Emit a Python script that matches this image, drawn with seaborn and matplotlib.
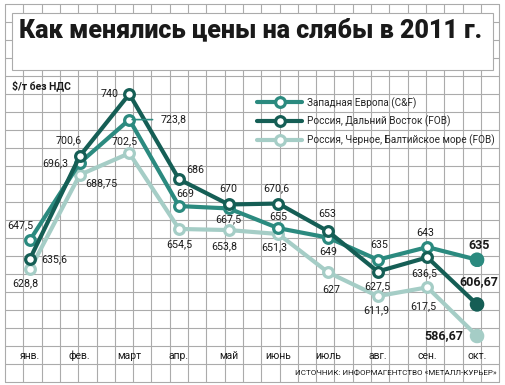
import numpy as np
import pandas as pd
import seaborn as sns
import matplotlib.pyplot as plt
from matplotlib.lines import Line2D
from matplotlib.patches import Rectangle
from matplotlib.transforms import blended_transform_factory

# data ($/t without VAT)
months = ["янв.", "фев.", "март", "апр.", "май", "июнь", "июль", "авг.", "сен.", "окт."]
west_europe = [647.5, 696.3, 723.8, 669, 667.5, 655, 649, 635, 643, 635]
far_east = [635.6, 700.6, 740, 686, 670, 670.6, 653, 627.5, 636.5, 606.67]
black_baltic = [628.8, 688.75, 702.5, 654.5, 653.8, 651.3, 627, 611.9, 617.5, 586.67]
series_names = ["Западная Европа (C&F)",
                "Россия, Дальний Восток (FOB)",
                "Россия, Черное, Балтийское море (FOB)"]
colors = ["#2b8a7f", "#155e55", "#a5cdc6"]

# label offsets in pixels (dx, dy) for each series / month
offs_we = [(-10, 15), (-24, 0), (44, 0), (6, 12), (0, -11), (0, 11), (0, -14), (1, 15), (-2, 14), (2, 14)]
offs_fe = [(24, 0), (-11, 16), (-20, 0), (16, 9), (0, 15), (-2, 15), (-1, 17), (0, -15), (-3, -16), (2, 23)]
offs_bb = [(-5, -14), (22, -8), (-5, 12), (0, -15), (-4, -16), (-4, -13), (3, -18), (-1, -14), (-4, -19), (-33, 0)]

df = pd.DataFrame({
    "month": list(range(len(months))) * 3,
    "price": west_europe + far_east + black_baltic,
    "series": np.repeat(series_names, len(months)),
})

sns.set_style("white")
font = "Roboto"

fig = plt.figure(figsize=(5.05, 3.85), dpi=100)

# background in pixel coords: grid, title box, texts
bg = fig.add_axes([0, 0, 1, 1], zorder=0)
bg.set_xlim(0, 505)
bg.set_ylim(385, 0)
bg.axis("off")
grid_c = "#ababab"
for k in range(28):
    x = 5 + 18.3 * k
    bg.plot([x, x], [4, 382], color=grid_c, lw=0.8)
for k in range(22):
    y = 4 + 18 * k
    bg.plot([5, 499], [y, y], color=grid_c, lw=0.8)
bg.add_patch(Rectangle((12, 13), 481, 57, facecolor="white", edgecolor=grid_c, lw=0.8, zorder=3))
bg.text(251, 30, "Как менялись цены на слябы в 2011 г.", ha="center", va="center",
        fontsize=18, fontweight="heavy", family=font, color="#1a1a1a", zorder=4)
bg.text(12, 86, "\\$/т без НДС", ha="left", va="center", fontsize=7.5,
        fontweight="bold", family=font, color="#1a1a1a")
bg.text(497, 374, "ИСТОЧНИК: ИНФОРМАГЕНТСТВО «МЕТАЛЛ-КУРЬЕР»", ha="right", va="center",
        fontsize=5.8, family=font, color="#1a1a1a")

# data axes on top
ax = fig.add_axes([0, 0, 1, 1], zorder=1)
ax.patch.set_alpha(0)
ax.set_xlim(-0.604, 9.563)
ax.set_ylim(555.6, 799.6)
ax.axis("off")

order = [series_names[2], series_names[0], series_names[1]]
pal = dict(zip(series_names, colors))
for name in order:
    sns.lineplot(data=df[df.series == name], x="month", y="price", color=pal[name],
                 lw=3, marker="o", ms=7, mew=2.3, mfc="white", mec=pal[name],
                 legend=False, ax=ax, zorder=2)
last = df[df.month == len(months) - 1]
sns.scatterplot(data=last, x="month", y="price", hue="series", palette=pal,
                s=110, edgecolor="none", legend=False, ax=ax, zorder=3)

def fmt(v):
    return f"{v:g}".replace(".", ",")

for vals, offs in zip([west_europe, far_east, black_baltic], [offs_we, offs_fe, offs_bb]):
    for i, (v, (dx, dy)) in enumerate(zip(vals, offs)):
        bold = i == len(months) - 1
        ax.annotate(fmt(v), (i, v), xytext=(dx, dy), textcoords="offset pixels",
                    ha="center", va="center", family=font,
                    fontsize=9 if bold else 7.7, fontweight="bold" if bold else "normal",
                    color="#1a1a1a", zorder=5)

# leader line for the March Western Europe label
ax.annotate("", (2, west_europe[2]), xytext=(26, 0), textcoords="offset pixels",
            arrowprops=dict(arrowstyle="-", color=colors[0], lw=1.2))

# month labels
tr = blended_transform_factory(ax.transData, bg.transData)
for i, m in enumerate(months):
    ax.text(i, 356, m, transform=tr, ha="center", va="center", fontsize=7.5,
            family=font, color="#1a1a1a")

handles = [Line2D([], [], color=c, lw=3, marker="o", ms=7, mew=2.3, mfc="white", mec=c)
           for c in colors]
fig.legend(handles, series_names, loc="upper left", bbox_to_anchor=(257, 97),
           bbox_transform=bg.transData, frameon=False, prop={"family": font, "size": 7.2},
           handlelength=4.5, handletextpad=0.5, labelspacing=0.72, borderpad=0,
           borderaxespad=0)

fig.savefig("out.png", dpi=100)
